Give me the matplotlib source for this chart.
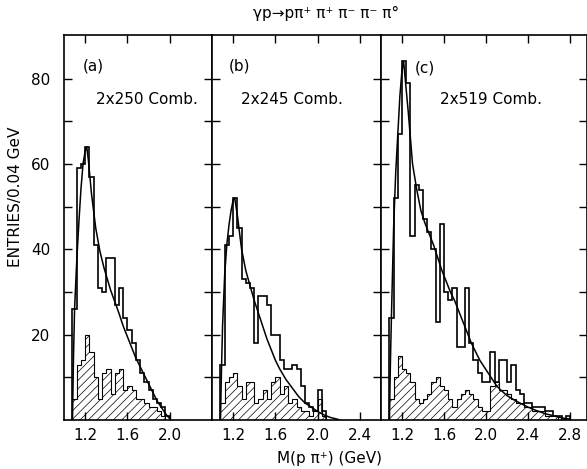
import matplotlib
matplotlib.use('Agg')
import matplotlib.pyplot as plt
import numpy as np

plt.rcParams['font.family'] = 'DejaVu Sans'
plt.rcParams['hatch.linewidth'] = 0.5

# bins of 0.04 GeV starting at 1.08 GeV
bin_start = 1.08
bin_width = 0.04

# panel (a)
open_a = [26, 59, 60, 64, 57, 41, 31, 30, 38, 38, 27, 31, 24, 21, 18, 14, 11, 9, 7, 5, 4, 3, 1]
hatch_a = [5, 13, 14, 20, 16, 10, 5, 11, 12, 6, 11, 12, 7, 8, 7, 5, 5, 4, 3, 3, 2, 1, 0]
curve_a_x = [1.08, 1.09, 1.10, 1.12, 1.14, 1.16, 1.18, 1.20, 1.215, 1.23, 1.26, 1.30, 1.34, 1.38,
             1.44, 1.52, 1.56, 1.60, 1.64, 1.68, 1.72, 1.76, 1.80, 1.84, 1.88, 1.92, 1.96, 2.00]
curve_a_y = [0, 15, 26, 37, 46, 54, 60, 63, 64, 61, 53, 45, 39.5, 35.5,
             30.5, 25, 22, 19.5, 17, 14.5, 12.5, 10.5, 8.5, 6.5, 4.5, 3, 1.5, 0.3]

# panel (b)
open_b = [13, 41, 43, 52, 45, 33, 32, 31, 18, 29, 29, 27, 20, 20, 14, 12, 12, 13, 12, 8, 4, 3, 2, 7, 2]
hatch_b = [4, 9, 10, 11, 8, 5, 9, 9, 4, 5, 7, 5, 9, 10, 6, 8, 4, 5, 3, 2, 2, 1, 2, 5, 1]
curve_b_x = [1.08, 1.09, 1.10, 1.12, 1.14, 1.16, 1.18, 1.20, 1.215, 1.24, 1.28, 1.32, 1.36, 1.40,
             1.44, 1.48, 1.52, 1.56, 1.60, 1.64, 1.70, 1.76, 1.82, 1.88, 1.94, 2.00, 2.06, 2.12, 2.20]
curve_b_y = [0, 12, 22, 34, 41, 45.5, 49, 51.5, 52, 48, 40, 35, 31.5, 28,
             25, 22, 19, 16.5, 14, 12, 9.5, 7.5, 5.5, 4, 3, 2, 1.2, 0.6, 0.1]

# panel (c)
open_c = [24, 52, 67, 84, 79, 43, 55, 54, 47, 44, 40, 23, 46, 30, 28, 31, 17, 17, 31, 18,
          14, 11, 9, 9, 16, 9, 14, 14, 9, 13, 7, 6, 4, 4, 3, 3, 3, 2, 2, 1, 1, 0, 1]
hatch_c = [5, 10, 15, 12, 11, 9, 5, 4, 5, 6, 9, 10, 8, 7, 5, 3, 5, 6, 7, 6,
           5, 3, 2, 2, 8, 9, 7, 7, 6, 5, 4, 4, 3, 3, 2, 2, 2, 1, 1, 1, 0, 0, 0]
curve_c_x = [1.08, 1.09, 1.10, 1.12, 1.14, 1.16, 1.18, 1.20, 1.215, 1.23, 1.26, 1.30, 1.34, 1.38,
             1.42, 1.46, 1.50, 1.54, 1.58, 1.62, 1.66, 1.70, 1.74, 1.78, 1.82, 1.86, 1.90, 1.94,
             1.98, 2.02, 2.06, 2.10, 2.14, 2.20, 2.26, 2.32, 2.40, 2.48, 2.56, 2.64, 2.72, 2.80]
curve_c_y = [0, 14, 25, 45, 58, 67, 76, 82, 84, 80, 72, 60, 54, 49,
             46, 43.5, 41, 38, 35, 32.5, 30, 28, 25.5, 23, 20.5, 18, 16, 14,
             12.5, 11, 9.5, 8, 7, 5.7, 4.8, 4, 3, 2.2, 1.5, 1, 0.5, 0.2]

panels = [
    ('(a)', '2x250 Comb.', open_a, hatch_a, curve_a_x, curve_a_y, 2.4, [1.2, 1.6, 2.0]),
    ('(b)', '2x245 Comb.', open_b, hatch_b, curve_b_x, curve_b_y, 2.6, [1.2, 1.6, 2.0, 2.4]),
    ('(c)', '2x519 Comb.', open_c, hatch_c, curve_c_x, curve_c_y, 2.96, [1.2, 1.6, 2.0, 2.4, 2.8]),
]
label_pos = [(1.18, 83, 1.30, 75), (1.16, 83, 1.27, 75), (1.32, 82.5, 1.56, 75)]

fig = plt.figure(figsize=(5.87, 4.69), dpi=100)
W, H = 587, 469
lefts = [64, 212, 381]
rights = [212, 381, 587]
top, bottom = 35, 420

for i, (tag, comb, op, ha, cx, cy, xmax, xt) in enumerate(panels):
    ax = fig.add_axes([lefts[i] / W, (H - bottom) / H,
                       (rights[i] - lefts[i]) / W, (bottom - top) / H])
    edges = bin_start + bin_width * np.arange(len(op) + 1)
    ax.stairs(ha, edges, fill=True, facecolor='none', edgecolor='black',
              hatch='////', linewidth=0.8, baseline=0)
    ax.stairs(op, edges, color='black', linewidth=1.2, baseline=0)
    ax.plot(cx, cy, color='black', linewidth=1.1)

    ax.set_xlim(1.0, xmax)
    ax.set_ylim(0, 90.2)
    ax.set_xticks(xt)
    ax.set_xticklabels([f'{v:.1f}' for v in xt], fontsize=11)
    ax.set_yticks(range(10, 90, 10))
    if i == 0:
        ax.set_yticklabels(['', '20', '', '40', '', '60', '', '80'], fontsize=11)
    else:
        ax.set_yticklabels([])
    ax.tick_params(axis='both', which='both', direction='in', top=True, right=True,
                   length=6, width=1, pad=6)
    ax.tick_params(axis='y', pad=10)
    for s in ax.spines.values():
        s.set_linewidth(1.2)

    tx, ty, cxp, cyp = label_pos[i]
    ax.text(tx, ty, tag, fontsize=11, ha='left', va='center')
    ax.text(cxp, cyp, comb, fontsize=11, ha='left', va='center')

fig.text(0.555, 0.972, 'γp→pπ⁺ π⁺ π⁻ π⁻ π°', fontsize=11, ha='center', va='center')
fig.text(0.562, 0.022, 'M(p π⁺) (GeV)', fontsize=11, ha='center', va='center')
fig.text(0.026, 0.58, 'ENTRIES/0.04 GeV', fontsize=11, rotation=90, ha='center', va='center')

fig.savefig('out.png', dpi=100)
